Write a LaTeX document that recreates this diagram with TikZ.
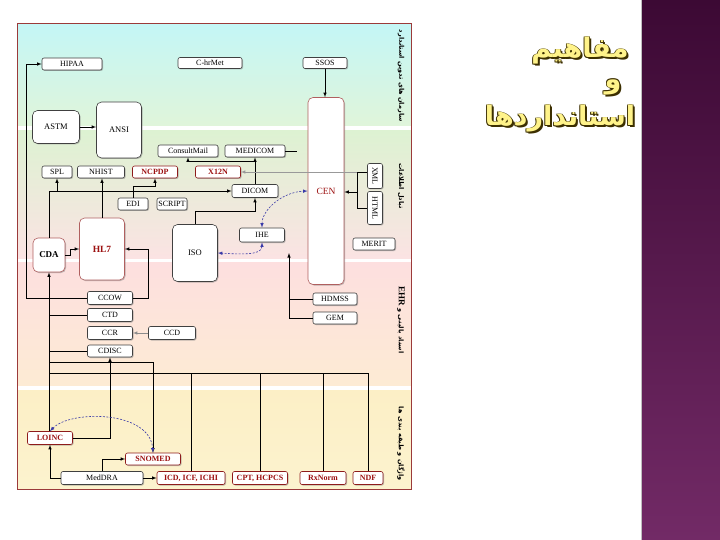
\documentclass[tikz,border=0pt]{standalone}
\usepackage{fontspec}
\setmainfont{Liberation Serif}
\newfontfamily\farsi[Script=Arabic]{DejaVu Sans}
\TeXXeTstate=1
\usepackage{tikz}
\usetikzlibrary{arrows,arrows.meta}
\usetikzlibrary{calc,shapes}
\usetikzlibrary{shadows}
\tikzset{>=latex}
\newcommand{\fatext}[1]{{\farsi\beginR #1\endR}}
\definecolor{framered}{HTML}{9B3A3A}
\definecolor{boxred}{HTML}{8E1B1B}
\definecolor{textred}{HTML}{9C1010}
\definecolor{arcblue}{HTML}{3A3AA8}
\definecolor{bandAa}{HTML}{C4F6F6}
\definecolor{bandAb}{HTML}{E0F5DA}
\definecolor{bandBa}{HTML}{DDF2D2}
\definecolor{bandBb}{HTML}{FBE3E3}
\definecolor{bandCa}{HTML}{FDDFDF}
\definecolor{bandCb}{HTML}{FDEBD4}
\definecolor{bandDa}{HTML}{FCEFC6}
\definecolor{bandDb}{HTML}{FCF3CE}
\definecolor{barTop}{HTML}{3C0934}
\definecolor{barBot}{HTML}{722A66}
\definecolor{titleyellow}{HTML}{FFF38A}
\definecolor{titledark}{HTML}{3C2F00}
\tikzstyle{stdbox} = [%
					draw=black!75, fill=white, rounded corners=2pt,
					line width=0.6pt, inner sep=1pt, minimum height=12pt,
					font=\fontsize{8}{9}\selectfont,
					drop shadow={shadow xshift=1pt, shadow yshift=-1pt, fill=black!50, opacity=.5}
					]
\tikzstyle{redbox} = [stdbox, draw=boxred, text=textred, font=\fontsize{8}{9}\selectfont\bfseries]
\tikzstyle{bigbox} = [stdbox, rounded corners=5pt, font=\fontsize{8.5}{10}\selectfont]
\tikzstyle{link} = [line width=0.6pt]
\tikzstyle{bluearc} = [<->, arcblue, line width=0.6pt, dash pattern=on 2pt off 1.5pt]
\tikzstyle{bandlabel} = [rotate=-90, font=\fontsize{6.5}{7}\selectfont\bfseries]

\begin{document}
\begin{tikzpicture}[x=1pt,y=-1pt]
    \useasboundingbox (0,0) rectangle (720,540);
    \fill[white] (0,0) rectangle (720,540);

    % purple side bar
    \shade[top color=barTop, bottom color=barBot] (642,0) rectangle (720,540);
    \draw[black!25, line width=1pt] (641.5,0) -- (641.5,540);

    % title
    \foreach \tx/\ty/\word [count=\i] in {580/51/مفاهیم, 613/87/و, 560/119/استانداردها} {
        \foreach \dx/\dy [count=\k] in {-0.8/-0.8, 0.8/-0.8, -0.8/0.8, 0.8/0.8, 2/2} {
            \node[text=titledark, font=\farsi\bfseries\fontsize{27}{30}\selectfont] (tsh\i\k) at ({\tx+\dx},{\ty+\dy}) {\beginR\word\endR};
        }
        \node[text=titleyellow, font=\farsi\bfseries\fontsize{27}{30}\selectfont] (title\i) at (\tx,\ty) {\beginR\word\endR};
    }

    % the four bands and the frame
    \shade[top color=bandAa, bottom color=bandAb] (18,24) rectangle (411,126);
    \shade[top color=bandBa, bottom color=bandBb] (18,131) rectangle (411,258);
    \shade[top color=bandCa, bottom color=bandCb] (18,262) rectangle (411,385);
    \shade[top color=bandDa, bottom color=bandDb] (18,390) rectangle (411,489);
    \draw[framered, line width=0.8pt] (17.5,23.5) rectangle (411.5,489.5);

    % band labels
    \node[bandlabel] (lab1) at (401,76) {\fatext{سازمان های تدوین استاندارد}};
    \node[bandlabel] (lab2) at (401,186) {\fatext{تبادل اطلاعات}};
    \node[bandlabel] (lab3) at (401,320) {\fatext{اسناد بالینی و \beginL{\rmfamily\bfseries\fontsize{9}{10}\selectfont EHR}\endL}};
    \node[bandlabel] (lab4) at (401,444) {\fatext{واژگان و طبقه بندی ها}};

    % top band
    \node[stdbox, minimum width=60pt] (hipaa) at (72,64) {HIPAA};
    \node[stdbox, minimum width=64pt, minimum height=11pt] (chrmet) at (210,63) {C-hrMet};
    \node[stdbox, minimum width=44pt, minimum height=11pt] (ssos) at (325,63) {SSOS};
    \node[bigbox, minimum width=47pt, minimum height=33pt] (astm) at (56,127) {ASTM};
    \node[bigbox, minimum width=45pt, minimum height=56pt] (ansi) at (119,130) {ANSI};
    \node[bigbox, draw=boxred!70, text=textred, font=\fontsize{9.5}{11}\selectfont, minimum width=36pt, minimum height=187pt] (cen) at (326,191) {CEN};

    % messaging band
    \node[stdbox, minimum width=60pt] (consult) at (188,151) {ConsultMail};
    \node[stdbox, minimum width=60pt] (medicom) at (255,151) {MEDICOM};
    \node[stdbox, minimum width=30pt] (spl) at (57,172) {SPL};
    \node[stdbox, minimum width=47pt] (nhist) at (101,172) {NHIST};
    \node[redbox, minimum width=45pt] (ncpdp) at (155,172) {NCPDP};
    \node[redbox, minimum width=45pt] (x12n) at (218,172) {X12N};
    \node[stdbox, minimum width=46pt, minimum height=13pt] (dicom) at (255,191) {DICOM};
    \node[stdbox, minimum width=30pt] (edi) at (133,204) {EDI};
    \node[stdbox, minimum width=30pt] (script) at (172,204) {SCRIPT};
    \node[stdbox, rotate=-90, minimum width=25pt, minimum height=15pt] (xml) at (375,176) {XML};
    \node[stdbox, rotate=-90, minimum width=33pt, minimum height=15pt] (html) at (375,208) {HTML};
    \node[stdbox, minimum width=42pt] (merit) at (374,244) {MERIT};
    \node[stdbox, minimum width=45pt, minimum height=14pt] (ihe) at (262,235) {IHE};
    \node[bigbox, minimum width=45pt, minimum height=57pt] (iso) at (195,253) {ISO};
    \node[bigbox, draw=boxred!70, text=textred, font=\fontsize{9.5}{11}\selectfont\bfseries, minimum width=45pt, minimum height=62pt] (hl7) at (102,249) {HL7};
    \node[bigbox, draw=boxred!70, font=\fontsize{9}{10}\selectfont\bfseries, minimum width=32pt, minimum height=34pt] (cda) at (49,255) {CDA};

    % documents band
    \node[stdbox, minimum width=45pt, minimum height=13pt] (ccow) at (110,298) {CCOW};
    \node[stdbox, minimum width=45pt, minimum height=13pt] (ctd) at (110,315) {CTD};
    \node[stdbox, minimum width=45pt, minimum height=13pt] (ccr) at (110,333) {CCR};
    \node[stdbox, minimum width=47pt, minimum height=13pt] (ccd) at (172,333) {CCD};
    \node[stdbox, minimum width=45pt] (cdisc) at (110,351) {CDISC};
    \node[stdbox, minimum width=44pt] (hdmss) at (335,299) {HDMSS};
    \node[stdbox, minimum width=44pt] (gem) at (335,318) {GEM};

    % terminology band
    \node[redbox, minimum width=45pt, minimum height=13pt] (loinc) at (50,438) {LOINC};
    \node[redbox, minimum width=55pt] (snomed) at (153,459) {SNOMED};
    \node[stdbox, minimum width=82pt, minimum height=13pt] (meddra) at (102,478) {MedDRA};
    \node[redbox, minimum width=68pt, minimum height=13pt] (icd) at (191,478) {ICD, ICF, ICHI};
    \node[redbox, minimum width=55pt, minimum height=13pt] (cpt) at (260,478) {CPT, HCPCS};
    \node[redbox, minimum width=46pt, minimum height=13pt] (rxnorm) at (323,478) {RxNorm};
    \node[redbox, minimum width=30pt, minimum height=13pt] (ndf) at (368,478) {NDF};

    % connectors
    \coordinate (medstub) at (297,151);
    \coordinate (brk) at (357,192);
    \coordinate (brktop) at (brk |- x12n.east);
    \coordinate (docs) at (49,362);
    \coordinate (terms) at (49,373);
    \coordinate (ehrup) at (289,253);

    \draw[link,->] (ccow.west) -- ++(-61,0) |- (hipaa.west);
    \draw[link,->] (astm.east) -- (astm.east -| ansi.west);
    \draw[link,->] (ssos.south) -- (ssos.south |- cen.north);
    \draw[link,->] (cda.north) |- (dicom.west);
    \draw[link,->] (spl.south |- dicom.west) -- (spl.south);
    \draw[link,->] (edi.north) -- ++(0,-11) -| (ncpdp.south);
    \draw[link,->] (iso.north) -- ++(0,-13) -| (dicom.south);
    \draw[link,->] (dicom.north) -- (medicom.south);
    \draw[link,->] (dicom.north) -- ++(0,-23) -| (consult.south);
    \draw[link] (medicom.east) -- (medstub);
    \draw[link] (brktop -| xml.south) -- (brktop) -- (brk |- html.south) -- (html.south);
    \draw[link,->] (brk) -- (brk -| cen.east);
    \draw[link,->,black!40] (brktop) -- (x12n.east);
    \draw[bluearc] (ihe.north) .. controls (262,210) and (282,192) .. (cen.west);
    \draw[bluearc] (ihe.south) .. controls (262,256) and (238,254) .. (iso.east);
    \draw[link,->] (cda.east) -- ++(5,0) |- (hl7.west);
    \draw[link,->] (hl7.north) -- (hl7.north |- nhist.south);
    \draw[link,->] (ccow.east) -- ++(15,0) |- (hl7.east);
    \draw[link,->,black!45] (ccd.west) -- (ccr.east);

    \draw[link,->] (cda.south |- loinc.north) -- (cda.south);
    \draw[link] (cda.south |- ctd.west) -- (ctd.west);
    \draw[link] (cda.south |- cdisc.west) -- (cdisc.west);
    \draw[link,->] (docs) -| (snomed.north);
    \draw[link] (terms) -| (ndf.north);
    \foreach \n in {icd,cpt,rxnorm} {
        \draw[link] (\n.north |- terms) -- (\n.north);
    }
    \draw[link,->] (loinc.east) -| (cdisc.south);
    \draw[link,->] (meddra.west) -| (loinc.south);
    \draw[link,->] (meddra.east) -- (icd.west);
    \draw[link,->] (meddra.north) |- (snomed.west);
    \draw[bluearc] (loinc.north) .. controls (70,410) and (150,410) .. (snomed.north);
    \draw[link] (hdmss.west) -- (hdmss.west -| ehrup);
    \draw[link,->] (gem.west) -| (ehrup);

\end{tikzpicture}
\end{document}
